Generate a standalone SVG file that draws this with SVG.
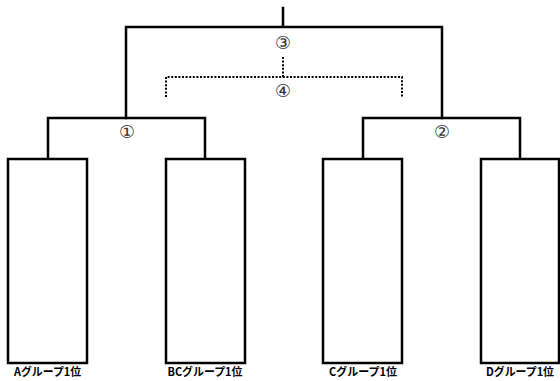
<svg xmlns="http://www.w3.org/2000/svg" width="560" height="381" viewBox="0 0 560 381">
<style>
.ln{fill:none;stroke:#000;stroke-width:2.5;stroke-linecap:square}
.dt{fill:none;stroke:#000;stroke-width:2;stroke-dasharray:2 1.6}
.box{fill:#fff;stroke:#000;stroke-width:2.5}
.lbl{font-family:"Noto Sans CJK JP","Noto Sans",sans-serif;font-weight:bold;font-size:11.5px;fill:#000;text-anchor:middle}
.num{font-family:"DejaVu Sans","Noto Sans CJK JP",sans-serif;font-size:18px;fill:#333;text-anchor:middle}
</style>
<rect width="560" height="381" fill="#fff"/>
<g id="connectors">
<path class="ln" d="M283 8V27M126 118V27H442V118"/>
<path class="ln" d="M48 159V118H205V159"/>
<path class="ln" d="M363 159V118H520V159"/>
<path class="dt" d="M283 57V77M166 97V77H402V97"/>
</g>
<g id="match3"><text class="num" x="283" y="48.5">③</text></g>
<g id="match4"><text class="num" x="283" y="96.5">④</text></g>
<g id="match1"><text class="num" x="127" y="137.5">①</text></g>
<g id="match2"><text class="num" x="442" y="137.5">②</text></g>
<g id="nodeA"><rect class="box" x="8" y="159" width="79" height="204"/><text class="lbl" x="47.5" y="375.5" textLength="67" lengthAdjust="spacingAndGlyphs">Aグループ1位</text></g>
<g id="nodeBC"><rect class="box" x="166" y="159" width="79" height="204"/><text class="lbl" x="205" y="375.5" textLength="75" lengthAdjust="spacingAndGlyphs">BCグループ1位</text></g>
<g id="nodeC"><rect class="box" x="323" y="159" width="79" height="204"/><text class="lbl" x="363" y="375.5" textLength="68" lengthAdjust="spacingAndGlyphs">Cグループ1位</text></g>
<g id="nodeD"><rect class="box" x="481" y="159" width="78" height="204"/><text class="lbl" x="520" y="375.5" textLength="68" lengthAdjust="spacingAndGlyphs">Dグループ1位</text></g>
</svg>
